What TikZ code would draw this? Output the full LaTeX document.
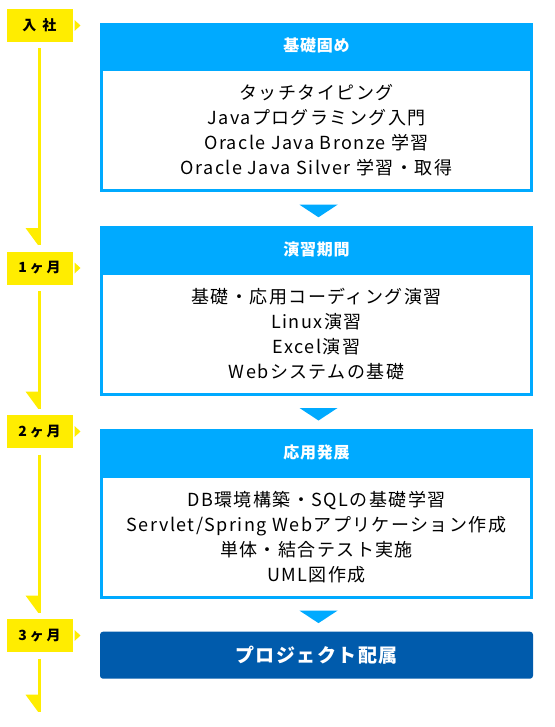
\documentclass[tikz,border=0pt]{standalone}
\usepackage{fontspec}
\setmainfont{Noto Sans CJK JP}
\usepackage{tikz}
\usetikzlibrary{positioning}
\usetikzlibrary{calc}
\usetikzlibrary{decorations.markings}
\definecolor{tlyellow}{HTML}{FFED00}
\definecolor{stepblue}{HTML}{00AAFF}
\definecolor{pjblue}{HTML}{005BAC}
\tikzset{
    period/.style={fill=tlyellow, minimum width=66pt, minimum height=33pt, inner sep=0pt, outer sep=0pt,
        font=\fontsize{14}{14}\selectfont\bfseries\addfontfeature{LetterSpace=20}},
    timeline/.style={draw=tlyellow, line width=3pt, postaction={decorate},
        decoration={markings,mark=at position 1 with {\fill[tlyellow] (0,-1.5pt) -- (-17pt,-1.5pt) -- (-17pt,-14pt) -- cycle;}}},
    head/.style={fill=stepblue, text=white, minimum width=433pt, minimum height=45.5pt, inner sep=0pt, outer sep=0pt,
        font=\fontsize{16}{16}\selectfont\bfseries\addfontfeature{LetterSpace=5}},
    body/.style={draw=stepblue, line width=3pt, minimum width=430pt, minimum height=121pt, inner sep=0pt, align=center,
        font=\fontsize{18}{25}\selectfont\addfontfeature{LetterSpace=8}},
    project/.style={fill=pjblue, text=white, rounded corners=3pt, minimum width=433pt, minimum height=47pt, inner sep=0pt,
        font=\fontsize{19}{19}\selectfont\bfseries\addfontfeature{LetterSpace=7.5}},
    flowtri/.style={fill=stepblue}
}
\begin{document}
\begin{tikzpicture}[x=1pt,y=-1pt]
\useasboundingbox (0,0) rectangle (554,727);
% timeline
\node[period] (l0) at (39.5,25.5) {入 社};
\node[period] (l1) at (39.5,268) {1ヶ月};
\node[period] (l2) at (39.5,431.5) {2ヶ月};
\node[period] (l3) at (39.5,635.5) {3ヶ月};
\coordinate (tlend) at (39.5,711.7);
\draw[style={timeline}] ([yshift=-6.5pt]l0.south) -- ([yshift=6.5pt]l1.north);
\draw[style={timeline}] ([yshift=-6.5pt]l1.south) -- ([yshift=6.5pt]l2.north);
\draw[style={timeline}] ([yshift=-6.5pt]l2.south) -- ([yshift=6.5pt]l3.north);
\draw[style={timeline}] ([yshift=-6.5pt]l3.south) -- (tlend);
\foreach \p in {l0,l1,l2,l3}
  \fill[tlyellow] ([xshift=2pt,yshift=5.5pt]\p.east) -- ([xshift=8pt]\p.east) -- ([xshift=2pt,yshift=-5.5pt]\p.east) -- cycle;

% steps
\node[head] (h1) at (316.5,45.5) {基礎固め};
\node[body, below=0pt of h1] (b1) {タッチタイピング\\Javaプログラミング入門\\Oracle Java Bronze 学習\\Oracle Java Silver 学習・取得};
\node[head] (h2) at (316.5,249) {演習期間};
\node[body, below=0pt of h2] (b2) {基礎・応用コーディング演習\\Linux演習\\Excel演習\\Webシステムの基礎};
\node[head] (h3) at (316.5,452) {応用発展};
\node[body, below=0pt of h3] (b3) {DB環境構築・SQLの基礎学習\\Servlet/Spring Webアプリケーション作成\\単体・結合テスト実施\\UML図作成};
\node[project] (pj) at (316.5,655.2) {プロジェクト配属};
\foreach \a/\b in {b1/h2,b2/h3,b3/pj}
  \fill[style={flowtri}] ($(\a.south)!.5!(\b.north)+(-17,-4.5)$) -- ++(38,0) -- ++(-19,12.5) -- cycle;
\end{tikzpicture}
\end{document}
